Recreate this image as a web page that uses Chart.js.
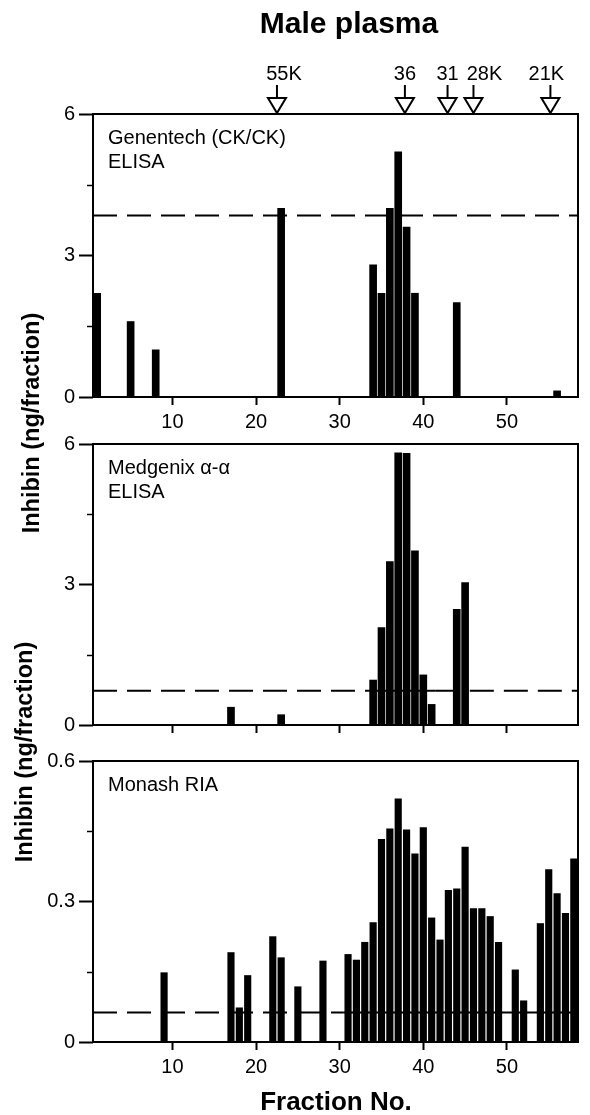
<!DOCTYPE html>
<html>
<head>
<meta charset="utf-8">
<script src="https://cdn.jsdelivr.net/npm/chart.js@4.4.1/dist/chart.umd.min.js"></script>
<style>
  body {
    margin: 0;
    background: #fff;
    width: 590px;
    height: 1115px;
    position: relative;
    overflow: hidden;
    font-family: "Liberation Sans", Arial, sans-serif;
  }
  canvas { position: absolute; left: 0; }
  .txt {
    position: absolute;
    color: #000;
    font-weight: bold;
    white-space: nowrap;
    line-height: 1;
    transform: translate(-50%, -50%);
    z-index: 5;
  }
  .vert { transform: translate(-50%, -50%) rotate(-90deg); }
</style>
</head>
<body>

<div class="txt" style="left:349px; top:23px; font-size:30px;">Male plasma</div>
<div class="txt vert" style="left:32px; top:423px; font-size:23.5px;">Inhibin (ng/fraction)</div>
<div class="txt vert" style="left:25px; top:752px; font-size:23.5px;">Inhibin (ng/fraction)</div>
<div class="txt" style="left:336px; top:1101px; font-size:26px;">Fraction No.</div>

<canvas id="chartTop" width="590" height="440" style="top:0px"></canvas>
<canvas id="chartMid" width="590" height="330" style="top:420px"></canvas>
<canvas id="chartBot" width="590" height="375" style="top:740px"></canvas>

<script>
const X_MIN = 0.5;
const X_MAX = 58.5;
const xTickValues = [10, 20, 30, 40, 50];

// Genentech (CK/CK) ELISA
const genentechFractions = [1, 5, 8, 23, 34, 35, 36, 37, 38, 39, 44, 56];
const genentechValues = [2.2, 1.6, 1.0, 4.0, 2.8, 2.2, 4.0, 5.2, 3.6, 2.2, 2.0, 0.13];
const genentechCutoff = 3.85;
const genentechTicks = [0, 3, 6];

// Medgenix alpha-alpha ELISA
const medgenixFractions = [17, 23, 34, 35, 36, 37, 38, 39, 40, 41, 44, 45];
const medgenixValues = [0.38, 0.22, 0.96, 2.08, 3.49, 5.81, 5.8, 3.72, 1.07, 0.44, 2.47, 3.04];
const medgenixCutoff = 0.73;
const medgenixTicks = [0, 3, 6];

// Monash RIA
const monashFractions = [9, 17, 18, 19, 22, 23, 25, 28, 31, 32, 33, 34, 35, 36, 37, 38, 39, 40, 41, 42, 43, 44, 45, 46, 47, 48, 49, 51, 52, 54, 55, 56, 57, 58];
const monashValues = [0.148, 0.191, 0.073, 0.142, 0.225, 0.18, 0.118, 0.173, 0.187, 0.175, 0.213, 0.255, 0.433, 0.455, 0.519, 0.453, 0.402, 0.458, 0.265, 0.218, 0.324, 0.327, 0.416, 0.285, 0.285, 0.268, 0.213, 0.154, 0.088, 0.253, 0.368, 0.317, 0.275, 0.391];
const monashCutoff = 0.063;
const monashTicks = [0, 0.3, 0.6];

// molecular weight markers above the top panel
const markerFractions = [22.5, 37.8, 42.9, 46.0, 55.2];
const markerLabels = ["55K", "36", "31", "28K", "21K"];

const FONT = '"Liberation Sans", Arial, sans-serif';
Chart.defaults.font.family = FONT;
Chart.defaults.color = "#000";


const panelDecor = {
  id: "panelDecor",
  afterDraw(chart, args, opts) {
    const ctx = chart.ctx;
    const a = chart.chartArea;
    const x = chart.scales.x;
    const y = chart.scales.y;

    ctx.save();
    ctx.strokeStyle = "#000";
    ctx.fillStyle = "#000";

    // frame
    ctx.lineWidth = 2;
    ctx.strokeRect(a.left, a.top, a.right - a.left, a.bottom - a.top);

    // short ticks between the labelled ones
    const t = opts.yTicks;
    ctx.lineWidth = 1.5;
    for (let i = 0; i < t.length - 1; i++) {
      const py = Math.round(y.getPixelForValue((t[i] + t[i + 1]) / 2)) + 0.5;
      ctx.beginPath();
      ctx.moveTo(a.left - 6, py);
      ctx.lineTo(a.left, py);
      ctx.stroke();
    }

    // panel name
    ctx.font = "20px " + FONT;
    ctx.textAlign = "left";
    ctx.textBaseline = "alphabetic";
    opts.label.forEach((line, i) => {
      ctx.fillText(line, a.left + 15, a.top + 30 + i * 24);
    });

    // arrows
    if (opts.markers) {
      const shift = [7, 0, 0, 11, -4];
      ctx.font = "20px " + FONT;
      ctx.textAlign = "center";
      ctx.textBaseline = "middle";
      ctx.lineWidth = 2;
      opts.markers.forEach((f, i) => {
        const px = x.getPixelForValue(f);
        ctx.beginPath();
        ctx.moveTo(px, a.top - 29);
        ctx.lineTo(px, a.top - 16);
        ctx.stroke();

        ctx.beginPath();
        ctx.moveTo(px - 9, a.top - 16);
        ctx.lineTo(px + 9, a.top - 16);
        ctx.lineTo(px, a.top - 1);
        ctx.closePath();
        ctx.fillStyle = "#fff";
        ctx.fill();
        ctx.stroke();

        ctx.fillStyle = "#000";
        ctx.fillText(opts.markerLabels[i], px + shift[i], a.top - 40);
      });
    }

    ctx.restore();
  }
};


function makePanel(canvasId, cfg) {
  const ctx = document.getElementById(canvasId).getContext("2d");
  const dash = [24, 10];

  const linePoints = [{ x: X_MIN, y: cfg.cutoff }];
  if (cfg.solid) {
    linePoints.push({ x: cfg.solid[0], y: cfg.cutoff });
    linePoints.push({ x: cfg.solid[1], y: cfg.cutoff });
  }
  linePoints.push({ x: X_MAX, y: cfg.cutoff });

  return new Chart(ctx, {
    type: "bar",
    data: {
      datasets: [
        {
          type: "bar",
          data: cfg.fractions.map((f, i) => ({ x: f, y: cfg.values[i] })),
          backgroundColor: "#000",
          borderWidth: 0,
          barThickness: cfg.barWidth
        },
        {
          type: "line",
          data: linePoints,
          borderColor: "#000",
          borderWidth: 2,
          pointRadius: 0,
          fill: false,
          borderDash: dash,
          segment: {
            borderDash: (c) => {
              if (cfg.solid && c.p0.parsed.x >= cfg.solid[0] && c.p1.parsed.x <= cfg.solid[1]) {
                return [];
              }
              return dash;
            }
          }
        }
      ]
    },
    options: {
      responsive: false,
      animation: false,
      layout: {
        padding: { top: cfg.padTop, right: 12, bottom: 0, left: 0 }
      },
      plugins: {
        legend: { display: false },
        tooltip: { enabled: false },
        panelDecor: {
          yTicks: cfg.yTicks,
          label: cfg.label,
          markers: cfg.markers || null,
          markerLabels: cfg.markerLabels || null
        }
      },
      scales: {
        x: {
          type: "linear",
          min: X_MIN,
          max: X_MAX,
          offset: false,
          afterBuildTicks: (scale) => {
            scale.ticks = xTickValues.map(v => ({ value: v }));
          },
          afterFit: (scale) => {
            scale.height = cfg.xHeight;
          },
          ticks: {
            autoSkip: false,
            maxRotation: 0,
            padding: 5,
            font: { size: 20 },
            color: "#000",
            callback: (v) => cfg.xLabels ? String(v) : ""
          },
          grid: {
            offset: false,
            drawOnChartArea: false,
            drawTicks: true,
            tickLength: 8,
            tickWidth: 2,
            tickColor: "#000"
          },
          border: { display: false }
        },
        y: {
          min: cfg.yTicks[0],
          max: cfg.yTicks[cfg.yTicks.length - 1],
          afterBuildTicks: (scale) => {
            scale.ticks = cfg.yTicks.map(v => ({ value: v }));
          },
          afterFit: (scale) => {
            scale.width = 93;
          },
          ticks: {
            padding: 4,
            font: { size: 20 },
            color: "#000",
            callback: (v) => String(v)
          },
          grid: {
            drawOnChartArea: false,
            drawTicks: true,
            tickLength: 14,
            tickWidth: 2,
            tickColor: "#000"
          },
          border: { display: false }
        }
      }
    },
    plugins: [panelDecor]
  });
}


makePanel("chartTop", {
  fractions: genentechFractions,
  values: genentechValues,
  cutoff: genentechCutoff,
  yTicks: genentechTicks,
  label: ["Genentech (CK/CK)", "ELISA"],
  markers: markerFractions,
  markerLabels: markerLabels,
  padTop: 114,
  xHeight: 43,
  xLabels: true,
  barWidth: 7
});

makePanel("chartMid", {
  fractions: medgenixFractions,
  values: medgenixValues,
  cutoff: medgenixCutoff,
  yTicks: medgenixTicks,
  label: ["Medgenix \u03b1-\u03b1", "ELISA"],
  solid: [33.5, 41.5],
  padTop: 24,
  xHeight: 25,
  xLabels: false,
  barWidth: 7
});

makePanel("chartBot", {
  fractions: monashFractions,
  values: monashValues,
  cutoff: monashCutoff,
  yTicks: monashTicks,
  label: ["Monash RIA"],
  solid: [30.5, X_MAX],
  padTop: 21,
  xHeight: 73,
  xLabels: true,
  barWidth: 6.5
});
</script>
</body>
</html>
